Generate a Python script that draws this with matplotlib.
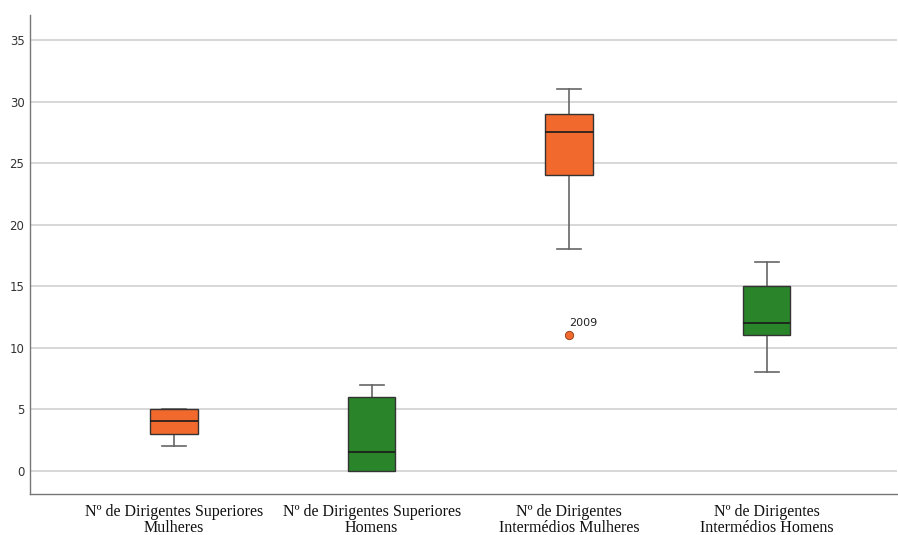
import matplotlib
matplotlib.use("Agg")
import matplotlib.pyplot as plt

categories = [
    "Nº de Dirigentes Superiores\nMulheres",
    "Nº de Dirigentes Superiores\nHomens",
    "Nº de Dirigentes\nIntermédios Mulheres",
    "Nº de Dirigentes\nIntermédios Homens",
]
q1 = [3, 0, 24, 11]
median = [4, 1.5, 27.5, 12]
q3 = [5, 6, 29, 15]
whisker_low = [2, 0, 18, 8]
whisker_high = [5, 7, 31, 17]
outliers = [[], [], [11], []]
outlier_labels = [[], [], ["2009"], []]
colors = ["#F2692D", "#2A852A", "#F2692D", "#2A852A"]
yticks = [0, 5, 10, 15, 20, 25, 30, 35]

fig = plt.figure(figsize=(8.98, 5.35), dpi=100)
ax = fig.add_axes([30 / 898, 1 - 494 / 535, 867 / 898, (494 - 15) / 535])

stats = []
for i in range(len(categories)):
    stats.append(dict(med=median[i], q1=q1[i], q3=q3[i],
                      whislo=whisker_low[i], whishi=whisker_high[i],
                      fliers=[], label=categories[i]))

positions = list(range(1, len(categories) + 1))
bp = ax.bxp(stats, positions=positions, widths=0.24, patch_artist=True,
            showfliers=False,
            boxprops=dict(edgecolor="#333333", linewidth=1.0),
            medianprops=dict(color="#1a1a1a", linewidth=1.2),
            whiskerprops=dict(color="#666666", linewidth=1.2),
            capprops=dict(color="#666666", linewidth=1.2),
            capwidths=0.12)
for patch, c in zip(bp["boxes"], colors):
    patch.set_facecolor(c)
for line in bp["whiskers"] + bp["caps"]:
    line.set_zorder(2.5)
for art in bp["boxes"]:
    art.set_zorder(3)
for line in bp["medians"]:
    line.set_zorder(3.5)

for i, (pts, labs) in enumerate(zip(outliers, outlier_labels)):
    for v, lab in zip(pts, labs):
        ax.plot(positions[i], v, "o", color=colors[i], markersize=6,
                markeredgecolor="#8a3a10", markeredgewidth=0.6, zorder=4)
        ax.annotate(lab, (positions[i], v), xytext=(0, 7),
                    textcoords="offset points", fontsize=8,
                    family="DejaVu Sans", color="#222222")

ax.set_xlim(0.27, 4.66)
ax.set_ylim(-1.9, 37.05)
ax.set_yticks(yticks)
ax.set_yticklabels([str(t) for t in yticks], fontsize=8.5, color="#333333")
ax.set_xticks(positions)
ax.set_xticklabels(categories, fontsize=11.5, family="Liberation Serif",
                   color="#111111", linespacing=1.0)
ax.tick_params(axis="x", length=0, pad=7)
ax.tick_params(axis="y", length=0, pad=4)
ax.yaxis.grid(True, color="#d4d4d4", linewidth=1.3)
ax.set_axisbelow(True)
for side in ["top", "right"]:
    ax.spines[side].set_visible(False)
for side in ["left", "bottom"]:
    ax.spines[side].set_color("#777777")
    ax.spines[side].set_linewidth(1.0)

fig.savefig("out.png", dpi=100)
